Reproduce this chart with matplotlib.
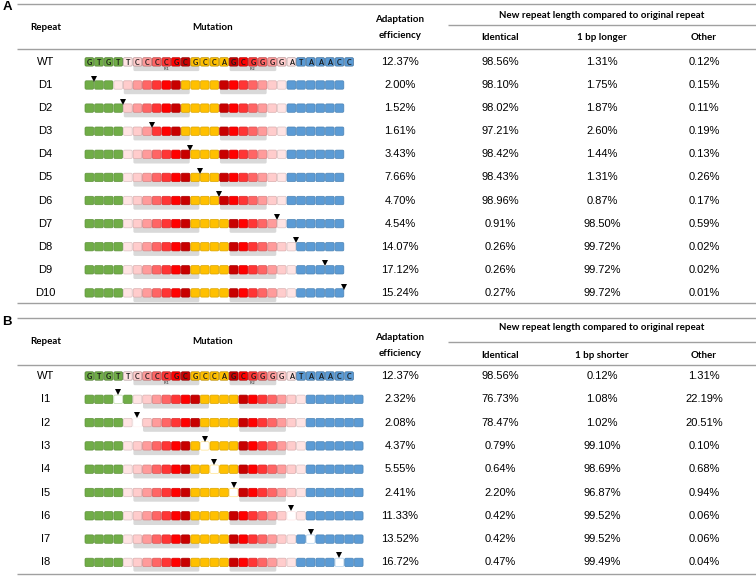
import matplotlib
matplotlib.use("Agg")
import matplotlib.pyplot as plt
from matplotlib.patches import FancyBboxPatch
from matplotlib.colors import to_rgb

# ── Data ──────────────────────────────────────────────────────
wt_seq = "GTGTTCCCCGCGCCAGCGGGGATAAACC"
wt_shade = (["green"] * 4
            + ["pale", "lightpink", "pink", "salmon", "redish", "red", "darkred"]
            + ["yellow"] * 4
            + ["darkred", "red", "redish", "salmon", "pink", "lightpink", "pale"]
            + ["blue"] * 6)
ir_spans = [(5, 12, "IR1"), (15, 20, "IR2")]   # WT cell index, end exclusive

wt_eff = 12.37

del_names = ["D1", "D2", "D3", "D4", "D5", "D6", "D7", "D8", "D9", "D10"]
del_pos = [1, 4, 7, 11, 12, 14, 20, 22, 25, 27]          # deleted WT cell
del_eff = [2.00, 1.52, 1.61, 3.43, 7.66, 4.70, 4.54, 14.07, 17.12, 15.24]
del_identical = [98.10, 98.02, 97.21, 98.42, 98.43, 98.96, 0.91, 0.26, 0.26, 0.27]
del_longer = [1.75, 1.87, 2.60, 1.44, 1.31, 0.87, 98.50, 99.72, 99.72, 99.72]
del_other = [0.15, 0.11, 0.19, 0.13, 0.26, 0.17, 0.59, 0.02, 0.02, 0.01]
wt_a = [98.56, 1.31, 0.12]

ins_names = ["I1", "I2", "I3", "I4", "I5", "I6", "I7", "I8"]
ins_pos = [3, 5, 12, 13, 15, 21, 23, 26]                 # inserted cell index
ins_eff = [2.32, 2.08, 4.37, 5.55, 2.41, 11.33, 13.52, 16.72]
ins_identical = [76.73, 78.47, 0.79, 0.64, 2.20, 0.42, 0.42, 0.47]
ins_shorter = [1.08, 1.02, 99.10, 98.69, 96.87, 99.52, 99.52, 99.49]
ins_other = [22.19, 20.51, 0.10, 0.68, 0.94, 0.06, 0.06, 0.04]
wt_b = [98.56, 0.12, 1.31]

# ── Style ─────────────────────────────────────────────────────
PALETTE = {
    "green": "#70AD47", "pale": "#FFE4E4", "lightpink": "#FFCCCC",
    "pink": "#FF9B9B", "salmon": "#FF6565", "redish": "#FF3535",
    "red": "#FF0000", "darkred": "#C80000", "yellow": "#FFC000",
    "blue": "#5B9BD5", "insert": "#FFFFFF",
}
LINE = "#A0A0A0"
HEAD_FONT = "Lato"
BODY_FONT = "Liberation Sans"

X0, PITCH, CW, CH = 85.0, 9.62, 8.7, 8.4
COL_REPEAT, COL_MUT, COL_EFF = 45.5, 213, 400
COL_SUB = [500, 602, 704]


def shade(c, f):
    r, g, b = to_rgb(c)
    return (r * f, g * f, b * f)


def lighten(c, f):
    r, g, b = to_rgb(c)
    return (r + (1 - r) * f, g + (1 - g) * f, b + (1 - b) * f)


def draw_cells(ax, y, shades, letters=None, irs=(), edge_f=0.85, ins_edge=None):
    # gray inverted-repeat underlays
    for s, e, lab in irs:
        ax.add_patch(FancyBboxPatch(
            (X0 + s * PITCH + 0.3, y - 2), (e - s) * PITCH - 1.4, 11.2,
            boxstyle="round,pad=0,rounding_size=1.5",
            fc="#D9D9D9", ec="none", zorder=1))
        if letters:
            ax.text(X0 + (s + e) / 2 * PITCH - 0.5, y + 6.9, lab,
                    fontsize=2.6, family=BODY_FONT, weight="bold",
                    color="#555555", ha="center", va="center", zorder=3)
    for i, key in enumerate(shades):
        fc = PALETTE[key]
        ec = ins_edge if key == "insert" else shade(fc, edge_f)
        ax.add_patch(FancyBboxPatch(
            (X0 + i * PITCH, y - CH / 2), CW, CH,
            boxstyle="round,pad=0,rounding_size=1.3",
            fc=fc, ec=ec, lw=0.5, zorder=2))
        if letters:
            ax.text(X0 + i * PITCH + CW / 2, y + 0.3, letters[i],
                    fontsize=5.2, family=HEAD_FONT, weight="bold",
                    color="#1a1a1a", ha="center", va="center", zorder=3)


def mapped_irs(mapper):
    out = []
    for s, e, lab in ir_spans:
        idx = [mapper(j) for j in range(s, e) if mapper(j) is not None]
        out.append((min(idx), max(idx) + 1, lab))
    return out


def hline(ax, y, x1=17, x2=756):
    ax.plot([x1, x2], [y, y], color=LINE, lw=1.0, solid_capstyle="butt", zorder=0)


def body_text(ax, x, y, s):
    ax.text(x, y, s, fontsize=8, family=BODY_FONT, ha="center", va="center")


def head_text(ax, x, y, s):
    ax.text(x, y, s, fontsize=7, family=HEAD_FONT, weight="bold",
            ha="center", va="center")


def pct(v):
    return f"{v:.2f}%"


def draw_header(ax, label, top, ys, third):
    ax.text(2.5, top + 4, label, fontsize=9.5, family=BODY_FONT, weight="bold",
            ha="left", va="center")
    hline(ax, top)
    head_text(ax, COL_REPEAT, ys["main"], "Repeat")
    head_text(ax, COL_MUT, ys["main"], "Mutation")
    head_text(ax, COL_EFF, ys["eff1"], "Adaptation")
    head_text(ax, COL_EFF, ys["eff2"], "efficiency")
    head_text(ax, COL_SUB[1], ys["span"], "New repeat length compared to original repeat")
    hline(ax, ys["spanline"], 448, 756)
    for x, s in zip(COL_SUB, ["Identical", third, "Other"]):
        head_text(ax, x, ys["sub"], s)
    hline(ax, ys["hline"])


def draw_row(ax, y, name, eff, vals):
    body_text(ax, COL_REPEAT, y, name)
    body_text(ax, COL_EFF, y, pct(eff))
    for x, v in zip(COL_SUB, vals):
        body_text(ax, x, y, pct(v))


def draw_wt(ax, y, vals):
    draw_cells(ax, y, wt_shade, letters=wt_seq, irs=ir_spans, edge_f=0.72)
    draw_row(ax, y, "WT", wt_eff, vals)


def triangle(ax, x, y):
    ax.plot([x], [y], marker="v", color="black", ms=3.8, mew=0, zorder=4)


# ── Figure ────────────────────────────────────────────────────
fig = plt.figure(figsize=(7.56, 5.76), dpi=100)
ax = fig.add_axes([0, 0, 1, 1])
ax.set_xlim(0, 756)
ax.set_ylim(576, 0)
ax.axis("off")

# Panel A — deletions
draw_header(ax, "A", 3.5,
            dict(main=27, eff1=20, eff2=36, span=15, spanline=25, sub=38, hline=49.3),
            "1 bp longer")
y0, dy = 61.9, 23.1
draw_wt(ax, y0, wt_a)
for r, (name, k) in enumerate(zip(del_names, del_pos)):
    y = y0 + (r + 1) * dy
    cells = [s for j, s in enumerate(wt_shade) if j != k]
    irs = mapped_irs(lambda j, k=k: None if j == k else (j if j < k else j - 1))
    draw_cells(ax, y, cells, irs=irs)
    triangle(ax, X0 + k * PITCH - (PITCH - CW) / 2, y - CH / 2 - 2.2)
    draw_row(ax, y, name, del_eff[r], [del_identical[r], del_longer[r], del_other[r]])
hline(ax, 303)

# Panel B — insertions
draw_header(ax, "B", 318.3,
            dict(main=342, eff1=337, eff2=354, span=328, spanline=341.5, sub=355, hline=365),
            "1 bp shorter")
y0, dy = 376, 23.3
draw_wt(ax, y0, wt_b)
for r, (name, p) in enumerate(zip(ins_names, ins_pos)):
    y = y0 + (r + 1) * dy
    cells = wt_shade[:p] + ["insert"] + wt_shade[p:]
    irs = mapped_irs(lambda j, p=p: j if j < p else j + 1)
    draw_cells(ax, y, cells, irs=irs,
               ins_edge=lighten(PALETTE[wt_shade[p - 1]], 0.55))
    triangle(ax, X0 + p * PITCH + CW / 2, y - CH / 2 - 3.2)
    draw_row(ax, y, name, ins_eff[r], [ins_identical[r], ins_shorter[r], ins_other[r]])
hline(ax, 574)

fig.savefig("out.png", dpi=100)
